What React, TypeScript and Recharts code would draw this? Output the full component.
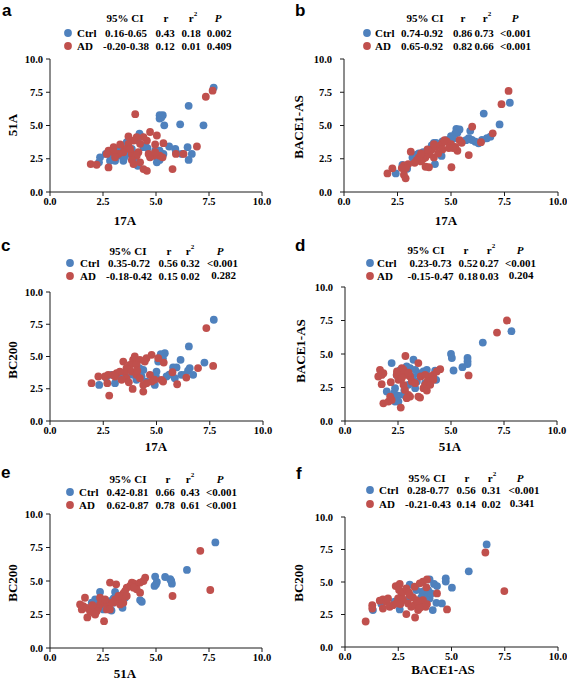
import React from 'react';
import { ScatterChart, Scatter, XAxis, YAxis } from 'recharts';

const BLUE = '#4F81BD';
const RED = '#C0504D';
const TICKS = [0, 2.5, 5, 7.5, 10];

type Pts = [number, number][];

// Panel a: 17A vs 51A
const aCtrl: Pts = [[7.72,7.85],[6.54,6.48],[7.24,5.01],[6.14,5.09],[5.39,5.01],[5.32,5.77],[5.17,5.77],[5.17,5.52],[5.25,5.6],[6.49,3.37],[6.54,2.41],[6.69,2.86],[6.22,2.86],[5.91,3.24],[5.62,3.42],[5.94,2.99],[5.35,2.86],[5.04,2.61],[4.96,3.11],[5.17,2.41],[5.04,2.23],[4.49,3.49],[4.41,3.37],[4.25,4.25],[4.13,3.87],[3.62,3.75],[3.31,3.37],[3.31,2.73],[3.46,2.35],[3.07,2.35],[2.83,2.86],[2.83,2.35],[2.36,2.61],[2.31,2.23],[4.14,1.97],[3.7,2.86],[3.86,3.24],[4.02,2.48],[4.22,4.38],[2.63,2.86],[3.15,3.24],[5.17,3.11],[3.5,2.6],[4.6,3.3]];
const aAD: Pts = [[7.67,7.62],[7.35,7.16],[4.02,5.85],[4.72,4.51],[5.04,4.25],[5.35,3.67],[4.96,3.57],[6.93,3.42],[6.3,2.86],[5.94,2.86],[5.78,1.72],[5.31,2.61],[5.17,2.73],[4.88,2.73],[4.72,2.61],[4.57,1.59],[4.41,1.72],[4.25,2.23],[4.17,2.99],[4.57,3.87],[4.41,4.13],[4.09,4.13],[3.94,3.87],[3.7,4.18],[3.7,3.62],[3.54,3.24],[3.46,2.99],[3.86,2.86],[4.09,2.73],[3.94,2.1],[3.86,2.41],[3.23,2.86],[3.0,3.37],[3.0,2.99],[2.76,3.11],[2.68,2.86],[2.76,1.85],[1.92,2.1],[2.2,2.05],[3.31,3.57],[3.07,2.61],[4.65,2.86],[4.96,2.99],[3.78,3.24],[4.25,3.62]];

// Panel b: 17A vs BACE1-AS
const bCtrl: Pts = [[7.75,6.71],[6.53,5.9],[7.27,5.08],[6.84,4.16],[6.68,4.04],[6.45,3.91],[6.29,3.66],[6.14,3.78],[5.98,3.91],[5.83,4.04],[5.9,4.6],[5.25,4.75],[5.4,4.7],[5.3,4.45],[5.2,4.4],[5.0,4.2],[4.56,2.71],[4.25,2.1],[2.42,1.4],[2.73,2.03],[2.95,1.75],[3.2,2.6],[3.4,2.8],[3.5,2.9],[3.7,3.0],[4.0,3.2],[4.2,3.7],[4.4,3.6],[4.6,3.8],[4.8,3.9],[5.1,4.0],[3.3,2.3],[3.6,2.5],[4.1,3.5],[4.3,3.7],[5.5,3.8],[3.8,2.7],[5.7,3.9]];
const bAD: Pts = [[7.69,7.6],[7.36,6.6],[5.99,4.91],[6.95,4.41],[6.4,3.75],[5.83,2.78],[5.02,1.86],[5.3,3.1],[5.2,3.4],[5.0,3.6],[4.8,3.8],[4.6,3.7],[4.5,3.5],[4.3,3.4],[4.1,3.2],[4.0,3.0],[3.9,2.8],[3.8,2.6],[3.7,2.5],[3.6,2.3],[3.5,2.6],[3.4,2.4],[3.3,2.2],[3.12,3.03],[3.0,2.1],[2.8,2.0],[2.9,1.8],[2.8,1.3],[2.88,1.03],[2.7,1.8],[2.26,1.78],[2.03,1.4],[3.81,1.9],[3.97,1.86],[4.2,2.6],[4.4,2.9],[4.6,3.2],[5.5,3.7],[5.4,3.9],[5.1,3.3],[4.9,3.3],[3.9,3.2],[4.2,3.6],[3.6,2.9],[4.7,3.9]];

// Panel c: 17A vs BC200
const cCtrl: Pts = [[7.69,7.85],[6.52,5.78],[7.25,4.53],[6.13,4.74],[5.39,5.26],[5.2,5.18],[5.3,4.87],[5.08,4.61],[5.94,4.15],[5.78,4.15],[6.56,4.1],[6.48,3.9],[6.72,3.58],[6.33,3.58],[6.17,3.58],[5.86,3.32],[5.0,3.83],[4.97,3.45],[4.92,2.8],[5.47,3.45],[4.38,3.96],[4.3,3.45],[3.28,3.45],[3.05,2.93],[2.63,3.37],[2.31,2.8],[2.89,3.58],[3.9,3.58],[4.06,3.19],[4.53,3.06],[5.6,3.6],[4.2,4.1],[3.6,3.4]];
const cAD: Pts = [[7.34,7.2],[7.66,4.27],[6.95,4.1],[6.4,3.37],[5.97,2.85],[5.75,3.78],[5.31,3.06],[5.23,3.19],[5.34,4.53],[5.08,4.87],[4.77,5.13],[4.45,4.61],[4.53,4.87],[4.22,4.74],[3.9,4.74],[3.75,4.35],[4.06,4.35],[3.98,5.0],[3.44,4.61],[3.59,4.1],[3.52,3.78],[3.28,3.83],[3.13,3.71],[3.83,3.83],[4.06,3.58],[4.22,3.32],[3.59,3.32],[3.36,3.19],[4.38,2.8],[4.38,2.28],[4.53,2.93],[4.77,3.06],[4.69,3.58],[3.88,2.49],[2.78,1.97],[2.69,2.93],[2.58,3.45],[2.73,3.58],[2.97,3.58],[2.27,3.45],[1.95,2.93],[3.05,3.45],[4.9,3.2],[3.7,3.0],[4.1,3.9]];

// Panel d: 51A vs BACE1-AS
const dCtrl: Pts = [[7.85,6.7],[6.5,5.85],[5.0,5.0],[5.04,4.7],[5.12,3.77],[5.54,4.02],[5.78,4.7],[5.78,4.25],[5.78,4.45],[3.23,4.57],[2.2,4.32],[1.97,2.2],[2.31,2.07],[2.36,2.45],[2.36,1.7],[2.36,1.45],[2.5,1.9],[2.44,3.44],[2.6,3.8],[2.91,4.07],[3.07,3.95],[3.31,3.82],[3.46,3.57],[3.54,3.44],[3.7,3.7],[3.86,3.82],[4.25,3.75],[4.3,3.07],[3.39,2.95],[3.31,2.45],[2.99,2.7],[2.76,1.95],[2.52,1.45],[3.78,2.82],[3.2,3.3],[2.9,3.6],[2.8,2.3]];
const dAD: Pts = [[7.64,7.5],[7.17,6.6],[5.83,3.4],[4.49,3.87],[4.33,3.7],[4.17,3.44],[4.02,3.32],[3.89,2.95],[3.78,2.7],[3.7,2.45],[3.86,2.27],[3.46,4.32],[2.85,4.85],[1.65,3.82],[1.73,3.44],[1.81,3.57],[1.57,3.32],[1.73,2.75],[1.81,1.32],[2.05,1.45],[2.2,1.57],[2.13,1.82],[2.63,1.0],[2.16,2.9],[2.44,3.44],[2.6,3.7],[2.68,3.95],[2.52,3.07],[2.76,2.7],[2.83,2.32],[2.99,1.95],[3.07,1.82],[2.91,1.7],[3.46,1.82],[3.54,1.75],[3.15,2.95],[3.31,2.82],[3.07,3.32],[2.83,3.44],[2.76,3.82],[3.57,3.32],[3.78,3.44],[4.17,3.07],[4.02,2.7],[2.68,3.2],[2.45,3.7],[3.0,3.6]];

// Panel e: 51A vs BC200
const eCtrl: Pts = [[7.8,7.88],[6.46,5.83],[5.72,5.0],[5.75,4.8],[5.67,5.13],[5.43,5.3],[4.96,5.33],[5.04,4.93],[4.93,4.63],[5.0,4.75],[4.25,3.58],[4.33,3.45],[3.42,3.0],[3.07,4.18],[2.36,4.18],[2.83,3.5],[2.99,3.38],[2.76,3.0],[2.52,3.13],[2.2,3.38],[1.97,3.38],[2.52,2.88],[3.31,3.63],[3.54,3.75],[2.13,3.63],[2.9,2.8],[3.2,3.9],[2.6,3.5],[2.0,2.9],[3.0,3.7],[2.4,3.3]];
const eAD: Pts = [[7.09,7.25],[7.56,4.33],[5.78,3.88],[4.49,5.25],[4.41,5.0],[4.25,4.88],[4.09,4.75],[3.94,4.83],[3.86,4.88],[3.78,4.63],[4.25,4.13],[4.09,4.38],[3.94,4.5],[3.62,4.5],[3.54,4.25],[3.46,4.08],[3.62,3.88],[3.39,3.63],[3.46,3.38],[3.31,3.25],[3.23,3.88],[2.83,4.88],[3.12,4.75],[3.07,3.63],[2.91,3.38],[2.76,3.13],[2.68,2.88],[2.83,2.88],[2.52,3.38],[2.36,3.25],[2.28,3.0],[2.2,2.75],[2.55,2.0],[1.76,2.28],[1.65,3.75],[1.57,3.13],[1.5,2.88],[1.73,3.0],[1.89,2.75],[2.05,2.63],[2.13,2.5],[1.42,3.25],[2.36,3.75],[2.6,3.63],[3.0,3.4],[2.0,3.2]];

// Panel f: BACE1-AS vs BC200
const fCtrl: Pts = [[6.65,7.89],[5.81,5.82],[4.73,5.28],[4.73,5.03],[5.02,4.56],[4.32,4.69],[4.18,4.85],[3.97,5.2],[4.29,3.4],[4.55,3.35],[4.12,2.84],[3.74,4.12],[3.85,3.92],[3.63,4.25],[3.58,3.81],[3.9,4.38],[3.04,4.79],[3.11,3.87],[2.57,2.89],[1.31,2.84],[1.71,3.3],[2.33,3.48],[3.51,3.48],[3.74,3.22],[3.35,4.38],[3.97,3.74],[4.05,4.12],[3.8,3.6],[3.3,3.2],[2.9,3.6]];
const fAD: Pts = [[6.59,7.27],[7.48,4.3],[0.97,1.96],[1.28,3.22],[1.28,2.96],[1.63,3.56],[1.78,3.66],[1.94,3.48],[1.78,2.96],[2.02,3.74],[2.1,3.09],[2.25,3.22],[2.41,3.35],[2.38,4.69],[2.57,4.85],[2.54,4.38],[2.65,3.99],[2.49,3.74],[2.72,3.66],[2.88,2.53],[3.29,2.27],[2.96,3.35],[3.11,3.09],[3.27,3.22],[3.43,2.84],[3.58,3.09],[3.35,3.61],[3.19,3.81],[3.04,3.99],[3.27,4.64],[3.51,4.9],[3.66,5.03],[3.85,5.2],[3.82,4.59],[4.32,4.12],[4.79,2.89],[3.66,3.61],[3.85,3.3],[3.79,3.09],[2.72,4.25],[2.88,4.51],[3.4,3.5],[3.0,4.2],[2.6,3.3],[3.5,3.0]];

// Statistics tables: [95% CI, r, r2, P]
const aStats = { ctrl: ['0.16-0.65', '0.43', '0.18', '0.002'], ad: ['-0.20-0.38', '0.12', '0.01', '0.409'] };
const bStats = { ctrl: ['0.74-0.92', '0.86', '0.73', '<0.001'], ad: ['0.65-0.92', '0.82', '0.66', '<0.001'] };
const cStats = { ctrl: ['0.35-0.72', '0.56', '0.32', '<0.001'], ad: ['-0.18-0.42', '0.15', '0.02', '0.282'] };
const dStats = { ctrl: ['0.23-0.73', '0.52', '0.27', '<0.001'], ad: ['-0.15-0.47', '0.18', '0.03', '0.204'] };
const eStats = { ctrl: ['0.42-0.81', '0.66', '0.43', '<0.001'], ad: ['0.62-0.87', '0.78', '0.61', '<0.001'] };
const fStats = { ctrl: ['0.28-0.77', '0.56', '0.31', '<0.001'], ad: ['-0.21-0.43', '0.14', '0.02', '0.341'] };

const toXY = (arr: Pts) => arr.map(([x, y]) => ({ x, y }));

const panels = [
  { id: 'a', ctrl: aCtrl, ad: aAD, stats: aStats, xLabel: '17A', yLabel: '51A',
    plot: { l: 50, t: 59, r: 262, b: 192 }, ytm: 3,
    letter: { x: 2, y: 16 }, rows: { h: 18, c: 33, a: 46 }, mk: 68, lb: 77,
    cols: [126, 165, 191, 219], hdr: [125, 166, 193, 218], pAd: null as null | { x: number; y: number },
    xl: { x: 125, y: 220 }, yl: { x: 12, y: 125 } },
  { id: 'b', ctrl: bCtrl, ad: bAD, stats: bStats, xLabel: '17A', yLabel: 'BACE1-AS',
    plot: { l: 344, t: 59, r: 558, b: 192 }, ytm: 8,
    letter: { x: 295, y: 16 }, rows: { h: 18, c: 33, a: 46 }, mk: 367, lb: 375,
    cols: [422, 462.5, 484, 515.5], hdr: [425, 463, 487, 515], pAd: null,
    xl: { x: 446, y: 220 }, yl: { x: 298, y: 127 } },
  { id: 'c', ctrl: cCtrl, ad: cAD, stats: cStats, xLabel: '17A', yLabel: 'BC200',
    plot: { l: 50, t: 292, r: 263, b: 421 }, ytm: 3,
    letter: { x: 1, y: 251 }, rows: { h: 251, c: 263, a: 276 }, mk: 70, lb: 80,
    cols: [129, 168, 190, 222.5], hdr: [128, 169, 190, 220], pAd: { x: 223.5, y: 274.5 },
    xl: { x: 156, y: 446 }, yl: { x: 12, y: 360 } },
  { id: 'd', ctrl: dCtrl, ad: dAD, stats: dStats, xLabel: '51A', yLabel: 'BACE1-AS',
    plot: { l: 345, t: 287, r: 557, b: 421 }, ytm: 8,
    letter: { x: 295, y: 251 }, rows: { h: 250, c: 263, a: 276 }, mk: 370, lb: 377,
    cols: [430.5, 468, 489, 520.5], hdr: [426, 466, 491, 520], pAd: { x: 521, y: 274.5 },
    xl: { x: 450, y: 446 }, yl: { x: 300, y: 351 } },
  { id: 'e', ctrl: eCtrl, ad: eAD, stats: eStats, xLabel: '51A', yLabel: 'BC200',
    plot: { l: 50, t: 514, r: 262, b: 648 }, ytm: 3,
    letter: { x: 1, y: 478 }, rows: { h: 479, c: 492, a: 505 }, mk: 70, lb: 79,
    cols: [127.5, 165, 190, 221.5], hdr: [128, 168, 190, 220], pAd: null,
    xl: { x: 125, y: 673 }, yl: { x: 12, y: 583 } },
  { id: 'f', ctrl: fCtrl, ad: fAD, stats: fStats, xLabel: 'BACE1-AS', yLabel: 'BC200',
    plot: { l: 345, t: 517, r: 558, b: 647 }, ytm: 8,
    letter: { x: 296, y: 479 }, rows: { h: 478, c: 490, a: 504 }, mk: 370, lb: 379,
    cols: [428, 466, 491, 524], hdr: [427, 467, 492, 520], pAd: { x: 522, y: 502.5 },
    xl: { x: 443, y: 669 }, yl: { x: 298, y: 583 } },
];

const SERIF = '"Liberation Serif", "Times New Roman", serif';
const SANS = '"Liberation Sans", Arial, sans-serif';
const AXIS = '#1a1a1a';

const Dot = (props: any) => {
  const { cx, cy, fill } = props;
  if (cx == null || cy == null) return null;
  return <circle cx={cx} cy={cy} r={3.9} fill={fill} />;
};

const tickStyle = { fontSize: 10.5, fontWeight: 'bold', fill: '#000', fontFamily: SERIF };

function Panel({ cfg }: { cfg: any }) {
  const { l, t, r, b } = cfg.plot;
  const w = r - l;
  const h = b - t;
  const yw = 50;
  return (
    <div style={{ position: 'absolute', left: l - yw, top: t - 10 }}>
      <ScatterChart width={w + yw + 12} height={h + 10 + 30} margin={{ top: 10, right: 12, bottom: 0, left: 0 }}>
        <XAxis type="number" dataKey="x" domain={[0, 10]} ticks={TICKS} interval={0}
          tickFormatter={(v: number) => v.toFixed(1)} height={30} tickSize={4} tickMargin={2}
          axisLine={{ stroke: AXIS, strokeWidth: 1 }} tickLine={{ stroke: AXIS }} tick={tickStyle} allowDataOverflow />
        <YAxis type="number" dataKey="y" domain={[0, 10]} ticks={TICKS} interval={0}
          tickFormatter={(v: number) => v.toFixed(1)} width={yw} tickSize={4} tickMargin={cfg.ytm}
          axisLine={{ stroke: AXIS, strokeWidth: 1 }} tickLine={{ stroke: AXIS }} tick={tickStyle} allowDataOverflow />
        <Scatter name="Ctrl" data={toXY(cfg.ctrl)} fill={BLUE} shape={Dot} isAnimationActive={false} />
        <Scatter name="AD" data={toXY(cfg.ad)} fill={RED} shape={Dot} isAnimationActive={false} />
      </ScatterChart>
    </div>
  );
}

function Texts({ cfg }: { cfg: any }) {
  const fs = 11;
  const common = { fontFamily: SERIF, fontWeight: 'bold' as const, fontSize: fs, fill: '#000', dominantBaseline: 'central' as const };
  const [ci, rr, r2, pp] = cfg.cols;
  const [hci, hr, hr2, hp] = cfg.hdr;
  return (
    <g>
      <text x={cfg.letter.x} y={cfg.letter.y} fontFamily={SANS} fontWeight="bold" fontSize={17} fill="#000">{cfg.id}</text>
      <text {...common} x={hci} y={cfg.rows.h} textAnchor="middle">95% CI</text>
      <text {...common} x={hr} y={cfg.rows.h} textAnchor="middle">r</text>
      <text {...common} x={hr2} y={cfg.rows.h} textAnchor="middle">r<tspan fontSize={7} dy={-4}>2</tspan></text>
      <text {...common} x={hp} y={cfg.rows.h} textAnchor="middle" fontStyle="italic">P</text>
      <circle cx={cfg.mk} cy={cfg.rows.c} r={3.9} fill={BLUE} />
      <circle cx={cfg.mk} cy={cfg.rows.a} r={3.9} fill={RED} />
      <text {...common} x={cfg.lb} y={cfg.rows.c}>Ctrl</text>
      <text {...common} x={cfg.lb} y={cfg.rows.a}>AD</text>
      <text {...common} x={ci} y={cfg.rows.c} textAnchor="middle">{cfg.stats.ctrl[0]}</text>
      <text {...common} x={rr} y={cfg.rows.c} textAnchor="middle">{cfg.stats.ctrl[1]}</text>
      <text {...common} x={r2} y={cfg.rows.c} textAnchor="middle">{cfg.stats.ctrl[2]}</text>
      <text {...common} x={pp} y={cfg.rows.c} textAnchor="middle">{cfg.stats.ctrl[3]}</text>
      <text {...common} x={ci} y={cfg.rows.a} textAnchor="middle">{cfg.stats.ad[0]}</text>
      <text {...common} x={rr} y={cfg.rows.a} textAnchor="middle">{cfg.stats.ad[1]}</text>
      <text {...common} x={r2} y={cfg.rows.a} textAnchor="middle">{cfg.stats.ad[2]}</text>
      <text {...common} x={cfg.pAd ? cfg.pAd.x : pp} y={cfg.pAd ? cfg.pAd.y : cfg.rows.a} textAnchor="middle">{cfg.stats.ad[3]}</text>
      <text {...common} fontSize={13} x={cfg.xl.x} y={cfg.xl.y} textAnchor="middle">{cfg.xLabel}</text>
      <text {...common} fontSize={13} x={0} y={0} textAnchor="middle"
        transform={`translate(${cfg.yl.x},${cfg.yl.y}) rotate(-90)`}>{cfg.yLabel}</text>
    </g>
  );
}

export default function App() {
  return (
    <div style={{ position: 'absolute', left: 0, top: 0, width: 567, height: 684, background: '#fff', overflow: 'hidden' }}>
      {panels.map((p) => <Panel key={p.id} cfg={p} />)}
      <svg width={567} height={684} style={{ position: 'absolute', left: 0, top: 0, pointerEvents: 'none' }}>
        {panels.map((p) => <Texts key={p.id} cfg={p} />)}
      </svg>
    </div>
  );
}
